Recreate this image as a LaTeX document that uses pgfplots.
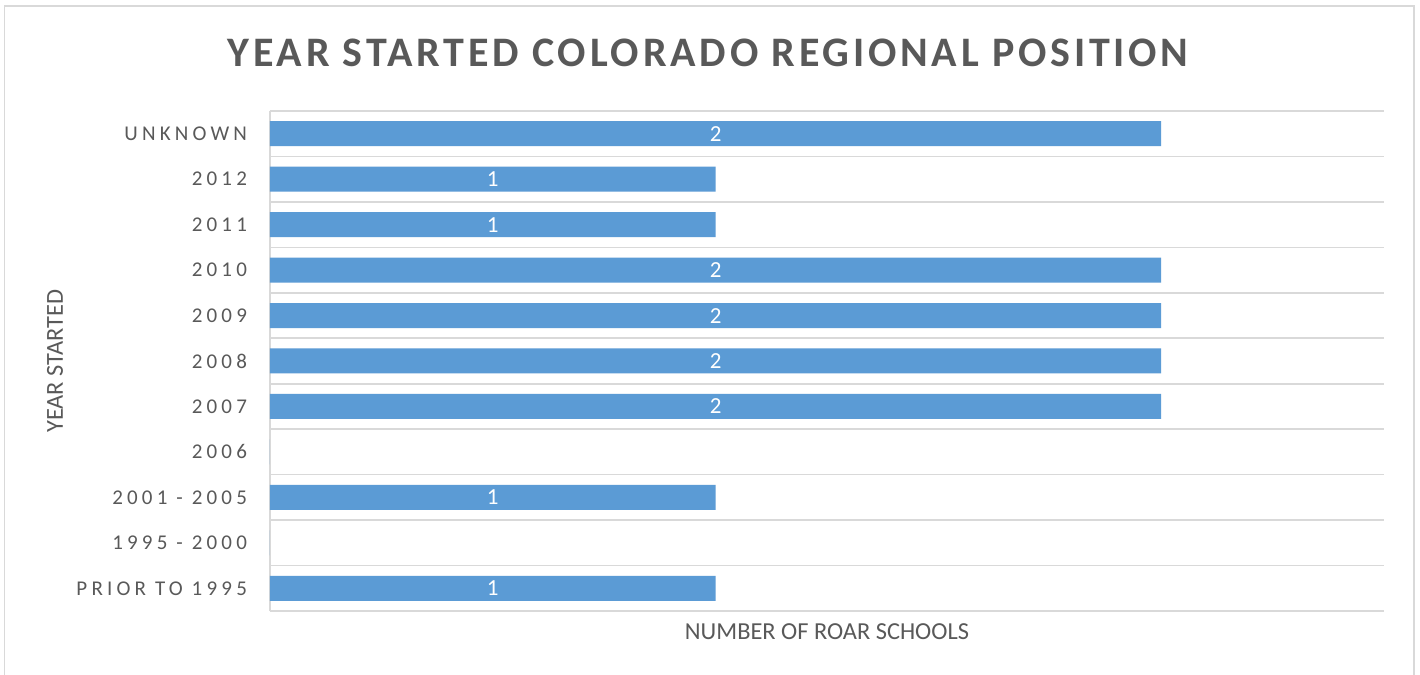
\documentclass[border=0pt]{standalone}
\usepackage{fontspec}
\setmainfont{Carlito}
\newfontfamily\spaced[LetterSpace=20]{Carlito}
\newfontfamily\titlefont[LetterSpace=9]{Carlito}
\usepackage{pgfplots}
\pgfplotsset{compat=1.18}
\usepackage{pgfplotstable}
\definecolor{txt}{HTML}{595959}
\definecolor{grd}{HTML}{D9D9D9}
\definecolor{barc}{HTML}{5B9BD5}
\pgfplotstableread{
pos value
0 1
1 0
2 1
3 0
4 2
5 2
6 2
7 2
8 1
9 1
10 2
}\datatable
\begin{document}
\begin{tikzpicture}
\useasboundingbox (0pt,0pt) rectangle (710pt,337.5pt);
\fill[white] (0pt,0pt) rectangle (710pt,337.5pt);
\draw[grd, line width=0.8pt] (2.3pt,-2pt) -- (2.3pt,334.5pt) -- (707pt,334.5pt) -- (707pt,-2pt);
\node[txt, font=\titlefont\fontsize{21}{25}\selectfont\bfseries] at (354pt,311pt) {YEAR STARTED COLORADO REGIONAL POSITION};
\begin{axis}[
  at={(135pt,32pt)}, anchor=south west,
  scale only axis, width=557pt, height=250pt,
  xmin=0, xmax=2.5, ymin=-0.5, ymax=10.5,
  xtick=\empty,
  ytick={0,...,10},
  yticklabels={PRIOR TO 1995,1995 - 2000,2001 - 2005,2006,2007,2008,2009,2010,2011,2012,UNKNOWN},
  yticklabel style={font=\spaced\fontsize{10.5}{12}\selectfont, text=txt, xshift=-8pt},
  major tick length=0pt,
  minor ytick={-0.5,0.5,...,10.5},
  yminorgrids,
  minor grid style={grd, line width=0.8pt},
  minor tick length=0pt,
  axis lines*=left,
  x axis line style={draw=none},
  y axis line style={grd, line width=0.8pt, -},
  xlabel={NUMBER OF ROAR SCHOOLS},
  ylabel={YEAR STARTED},
  xlabel style={font=\fontsize{12.2}{14}\selectfont, text=txt, at={(axis description cs:0.5,-0.042)}, anchor=center},
  ylabel style={font=\fontsize{12.2}{14}\selectfont, text=txt, at={(axis description cs:-0.193,0.5)}, anchor=center},
  clip=false,
]
\addplot[xbar, bar width=12.5pt, fill=barc, draw=none] table[x=value, y=pos] {\datatable};
\addplot[draw=none, point meta=explicit symbolic,
  nodes near coords={\ifnum\pgfplotspointmeta>0 \pgfplotspointmeta\fi},
  nodes near coords align=center,
  every node near coord/.append style={anchor=center, text=white, font=\fontsize{11.5}{13}\selectfont}]
  table[x expr=\thisrow{value}/2, y=pos, meta=value] {\datatable};
\end{axis}
\end{tikzpicture}
\end{document}
